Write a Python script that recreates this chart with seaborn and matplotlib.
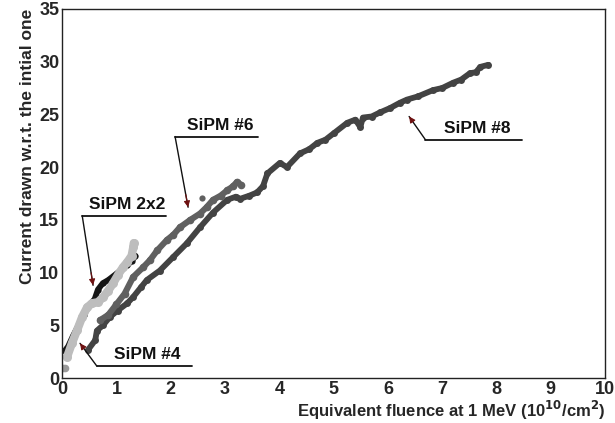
import numpy as np
import pandas as pd
import seaborn as sns
import matplotlib.pyplot as plt
from matplotlib.ticker import MultipleLocator

# SiPM #8 (long dark band)
sipm8_x = [0.48, 0.61, 0.64, 0.75, 0.88, 1.02, 1.20, 1.31, 1.45, 1.56, 1.80, 2.05, 2.30, 2.54,
           2.78, 3.04, 3.20, 3.28, 3.45, 3.59, 3.70, 3.78, 4.01, 4.14, 4.38, 4.55, 4.70, 4.85,
           5.00, 5.25, 5.40, 5.49, 5.54, 5.70, 5.86, 6.04, 6.22, 6.35, 6.55, 6.83, 7.00, 7.20,
           7.35, 7.51, 7.62, 7.70, 7.85]
sipm8_y = [2.7, 3.6, 4.5, 5.0, 5.8, 6.4, 7.1, 7.7, 8.6, 9.3, 10.2, 11.5, 12.8, 14.3,
           15.7, 16.9, 17.2, 17.0, 17.3, 17.6, 18.2, 19.4, 20.4, 20.0, 21.3, 21.7, 22.3, 22.6,
           23.2, 24.2, 24.5, 23.8, 24.7, 24.8, 25.2, 25.6, 26.1, 26.4, 26.7, 27.3, 27.5, 28.0,
           28.3, 28.9, 29.0, 29.5, 29.7]

# SiPM #6 (upper medium grey band)
sipm6_x = [0.70, 0.85, 1.00, 1.15, 1.31, 1.49, 1.62, 1.75, 1.93, 2.05, 2.17, 2.36, 2.54,
           2.66, 2.78, 2.92, 3.04, 3.15, 3.22, 3.30]
sipm6_y = [5.5, 6.0, 7.0, 8.0, 9.6, 10.5, 11.2, 12.1, 13.1, 13.6, 14.3, 15.0, 15.6,
           16.2, 16.9, 17.3, 17.8, 18.2, 18.6, 18.3]

# SiPM 2x2 (light grey, thick)
sipm2x2_x = [0.09, 0.18, 0.28, 0.37, 0.46, 0.55, 0.66, 0.76, 0.85, 0.94, 1.03, 1.12, 1.20,
             1.28, 1.31, 1.32]
sipm2x2_y = [2.0, 3.3, 4.6, 5.8, 6.7, 7.1, 7.2, 7.7, 8.3, 9.0, 9.8, 10.5, 11.0,
             11.6, 12.4, 12.8]

# SiPM #4 (black)
sipm4_x = [0.05, 0.11, 0.20, 0.30, 0.40, 0.50, 0.60, 0.66, 0.75, 0.85, 1.00, 1.10, 1.20,
           1.28, 1.35]
sipm4_y = [2.6, 3.0, 4.0, 5.0, 6.0, 6.9, 7.5, 8.4, 9.0, 9.3, 9.9, 10.3, 10.7,
           11.1, 11.6]

# isolated first points near the origin
first_x = [0.02, 0.06]
first_y = [1.0, 1.0]

# annotations: label, underline x-range, underline y, arrow tip
labels = ["SiPM #8", "SiPM #6", "SiPM 2x2", "SiPM #4"]
under_x0 = [6.69, 2.08, 0.37, 0.64]
under_x1 = [8.47, 3.61, 1.92, 2.39]
under_y = [22.6, 22.9, 15.4, 1.14]
tip_x = [6.39, 2.32, 0.57, 0.33]
tip_y = [24.8, 16.2, 8.8, 3.3]

sns.set_style("white")
plt.rcParams['font.family'] = ['Liberation Sans', 'DejaVu Sans']

fig = plt.figure(figsize=(6.15, 4.23), dpi=100)
ax = fig.add_axes([0.101, 0.106, 0.883, 0.873])

series = [
    (sipm8_x, sipm8_y, "#434343", 4.2, 5.0),
    (sipm6_x, sipm6_y, "#606060", 4.4, 5.5),
    (sipm4_x, sipm4_y, "#151515", 4.2, 4.5),
    (sipm2x2_x, sipm2x2_y, "#bdbdbd", 6.0, 6.5),
]
for xs, ys, col, lw, ms in series:
    d = pd.DataFrame({"x": xs, "y": ys})
    sns.lineplot(data=d, x="x", y="y", sort=False, color=col, lw=lw,
                 marker="o", markersize=ms, markeredgewidth=0, ax=ax, legend=False)

# stray points
sns.scatterplot(x=first_x, y=first_y, color="#9a9a9a", s=30, linewidth=0, ax=ax)
sns.scatterplot(x=[2.58], y=[17.1], color="#606060", s=20, linewidth=0, ax=ax)

for lab, x0, x1, uy, tx, ty in zip(labels, under_x0, under_x1, under_y, tip_x, tip_y):
    ax.plot([x0, x1], [uy, uy], color="#111111", lw=1.3)
    ax.plot([x0, tx], [uy, ty], color="#111111", lw=1.0)
    # small dark red head at the tip
    hx = tx + (x0 - tx) * 0.18
    hy = ty + (uy - ty) * 0.18
    ax.annotate("", xy=(tx, ty), xytext=(hx, hy),
                arrowprops=dict(arrowstyle="-|>", color="#6e1010", lw=0.8,
                                mutation_scale=9, shrinkA=0, shrinkB=0))
    ax.text((x0 + x1) / 2 + 0.06, uy + 0.65, lab, ha="center", va="baseline",
            fontsize=12.5, fontweight="bold", color="#111111")

ax.set_xlim(0, 10)
ax.set_ylim(0, 35)
ax.xaxis.set_major_locator(MultipleLocator(1))
ax.xaxis.set_minor_locator(MultipleLocator(0.2))
ax.yaxis.set_major_locator(MultipleLocator(5))
ax.yaxis.set_minor_locator(MultipleLocator(1))
ax.tick_params(axis="x", which="major", direction="in", length=8, width=1, top=False,
               labelsize=13, pad=2)
ax.tick_params(axis="x", which="minor", direction="in", length=4, width=1, top=False)
ax.tick_params(axis="y", which="major", direction="in", length=16, width=1, right=False,
               labelsize=13, pad=2)
ax.tick_params(axis="y", which="minor", direction="in", length=8, width=1, right=False)
for lbl in ax.get_xticklabels() + ax.get_yticklabels():
    lbl.set_fontweight("bold")
for s in ax.spines.values():
    s.set_color("#222222")
    s.set_linewidth(1.0)

ax.set_xlabel(r"Equivalent fluence at 1 MeV (10$^{\mathbf{10}}$/cm$^{\mathbf{2}}$)",
              fontsize=12, fontweight="bold", loc="right", labelpad=1)
ax.set_ylabel("Current drawn w.r.t. the intial one", fontsize=12.5, fontweight="bold",
              loc="top", labelpad=3)

fig.savefig("out.png", dpi=100)
